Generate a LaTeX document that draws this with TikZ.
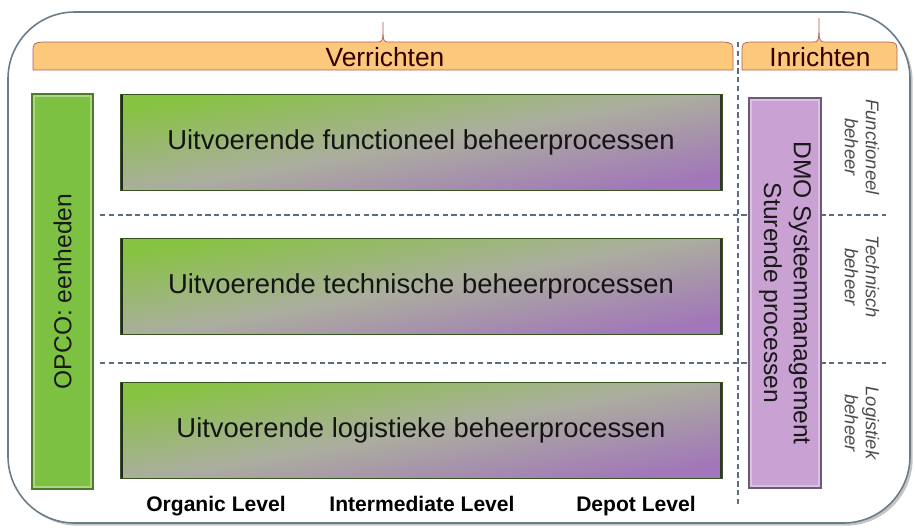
\documentclass[tikz,border=0pt]{standalone}
\usepackage{fontspec}
\setmainfont{Liberation Sans}
\usepackage{tikz}
\usetikzlibrary{shadows}
\definecolor{bracefill}{HTML}{FBC87C}
\definecolor{braceline}{HTML}{B0605A}
\definecolor{opcogreen}{HTML}{7DC143}
\definecolor{opcodark}{HTML}{4F7A2C}
\definecolor{procgreen}{HTML}{86C340}
\definecolor{procgray}{HTML}{ABAE9E}
\definecolor{procpurple}{HTML}{A276BA}
\definecolor{dmopurple}{HTML}{C9A2D3}
\definecolor{dmodark}{HTML}{6C5A7A}
\definecolor{dashgray}{HTML}{5C6E7C}
\definecolor{framegray}{HTML}{6A7C88}

\begin{document}
\begin{tikzpicture}[x=0.02cm,y=-0.02cm,
    brace/.style={fill=bracefill, draw=braceline, line width=0.4pt},
    bracetext/.style={text=black!80!red, font=\fontsize{15}{18}\selectfont},
    procbox/.style={draw=opcodark!70!black, top color=procgreen, bottom color=procpurple,
      middle color=procgray, shading angle=10, minimum width=12.04cm, minimum height=1.92cm,
      font=\fontsize{15.6}{18}\selectfont, text=black!92,
      path picture={\draw[line width=3pt, black!85] (path picture bounding box.north west) -- (path picture bounding box.south west);
        \draw[line width=2pt, black!80] (path picture bounding box.north east) -- (path picture bounding box.south east);}},
    sidebar/.style={line width=0.8pt, font=\fontsize{14}{17}\selectfont, text=black!90, align=center,
      path picture={\draw[white, opacity=0.35, line width=3pt] (path picture bounding box.north west) rectangle (path picture bounding box.south east);}},
    sidelabel/.style={rotate=-90, align=center, text=black!70, font=\itshape\fontsize{10.5}{12}\selectfont},
    levellabel/.style={font=\bfseries\fontsize{12}{14}\selectfont, text height=0.72em, text depth=0.2em},
    divider/.style={dashgray, line width=0.6pt, dash pattern=on 3pt off 2pt}]
  \useasboundingbox (0,0) rectangle (915,529);

  % Draw frame
  \draw[framegray, line width=0.9pt, fill=white, rounded corners=38pt,
    drop shadow={shadow xshift=1.5pt, shadow yshift=-1.5pt, fill=black!45}] (8,12) rectangle (910,523);

  % Draw braces
  \draw[brace] (33,70) -- (33,54) .. controls (33,43) .. (43,42) -- (377,42)
    .. controls (383,42) .. (383,22) .. controls (383,42) .. (389,42) -- (723,42)
    .. controls (733,43) .. (733,54) -- (733,70) -- cycle;
  \draw[brace] (742,70) -- (742,54) .. controls (742,43) .. (750,42) -- (813,42)
    .. controls (819,42) .. (819,18) .. controls (819,42) .. (825,42) -- (889,42)
    .. controls (897,43) .. (897,54) -- (897,70) -- cycle;
  \node[bracetext] (verr) at (385,57) {Verrichten};
  \node[bracetext] (inr) at (820,57) {Inrichten};

  % Draw dividers
  \coordinate (vtop) at (738,42);
  \coordinate (vbot) at (738,505);
  \coordinate (h1l) at (100,215);
  \coordinate (h1r) at (886,215);
  \coordinate (h2l) at (100,363);
  \coordinate (h2r) at (886,363);
  \draw[divider] (vtop) -- (vbot);
  \draw[divider] (h1l) -- (h1r);
  \draw[divider] (h2l) -- (h2r);

  % Draw boxes
  \node[sidebar, fill=opcogreen, draw=opcodark, rotate=90, minimum width=7.9cm, minimum height=1.22cm] (opco) at (62.5,291.5) {OPCO: eenheden};
  \node[procbox] (fbp) at (421,142) {Uitvoerende functioneel beheerprocessen};
  \node[procbox] (tbp) at (421,286) {Uitvoerende technische beheerprocessen};
  \node[procbox] (lbp) at (421,430) {Uitvoerende logistieke beheerprocessen};
  \node[sidebar, fill=dmopurple, draw=dmodark, rotate=-90, minimum width=7.8cm, minimum height=1.44cm] (dmo) at (785,293) {DMO Systeemmanagement\\Sturende processen};

  % Draw labels
  \node[sidelabel] (fb) at (862,147) {Functioneel\\beheer};
  \node[sidelabel] (tb) at (862,277) {Technisch\\beheer};
  \node[sidelabel] (lb) at (862,423) {Logistiek\\beheer};
  \node[levellabel] (org) at (216,507) {Organic Level};
  \node[levellabel] (inter) at (422,507) {Intermediate Level};
  \node[levellabel] (depot) at (636,507) {Depot Level};
\end{tikzpicture}
\end{document}
